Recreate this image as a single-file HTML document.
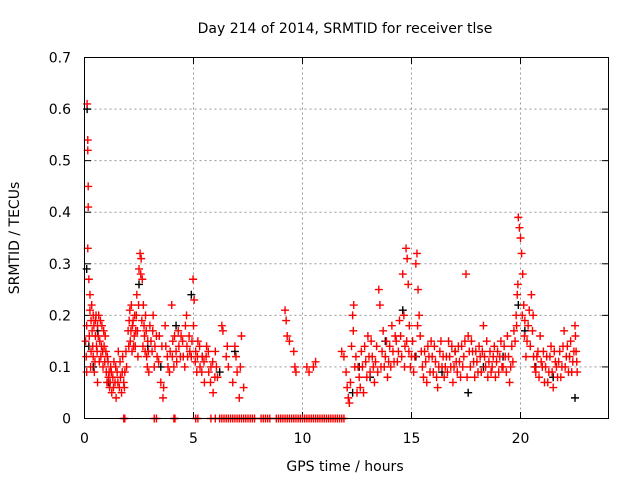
<!DOCTYPE html>
<html><head><meta charset="utf-8"><style>
body{margin:0;background:#fff}
svg{display:block;font-family:"DejaVu Sans","Liberation Sans",sans-serif}
</style></head><body>
<svg id="chart" width="640" height="480" viewBox="0 0 640 480">
<rect width="640" height="480" fill="#fff"/>
<text x="345" y="33" font-size="14" text-anchor="middle">Day 214 of 2014, SRMTID for receiver tlse</text>
<text x="345" y="471" font-size="14" text-anchor="middle">GPS time / hours</text>
<text x="19" y="238" font-size="14" text-anchor="middle" transform="rotate(-90 19 238)">SRMTID / TECUs</text>
<g id="grid"></g>
<g id="axes"></g>
<g id="black-series"></g>
<g id="red-series"></g>
<rect x="84.5" y="57.5" width="524" height="361" fill="none" stroke="#000" stroke-width="1"/>
</svg>
<script>
const xTicks=[0,5,10,15,20];
const yTicks=[0,0.1,0.2,0.3,0.4,0.5,0.6,0.7];
const yTickLabels=["0","0.1","0.2","0.3","0.4","0.5","0.6","0.7"];
const redT=[0.05,0.1,0.1,0.12,0.15,0.15,0.17,0.17,0.15,0.2,0.25,0.25,0.3,0.3,0.35,0.4,0.4,0.45,0.5,0.5,0.55,0.6,0.6,0.65,0.7,0.75,0.8,0.85,0.9,0.95,1.0,1.05,1.1,1.15,1.2,1.25,1.3,1.35,1.4,1.45,1.5,1.55,1.6,1.65,1.7,1.75,1.8,1.85,1.9,2.0,2.05,2.1,2.15,2.2,2.25,2.3,2.35,2.4,2.45,2.5,2.55,2.6,2.65,2.7,2.75,2.8,2.85,2.9,2.95,3.0,3.1,3.15,3.2,3.3,3.4,3.5,3.6,3.55,3.7,3.8,3.9,4.0,4.05,4.1,4.2,4.3,4.4,4.5,4.6,4.7,4.8,4.9,5.0,5.1,5.15,5.2,5.3,5.4,5.5,5.6,5.7,5.8,5.9,6.0,6.1,6.3,6.35,6.5,6.6,6.8,6.9,7.0,7.1,7.2,7.3,9.2,9.25,9.3,9.4,9.6,9.65,9.7,10.2,10.3,10.5,10.6,11.8,11.9,12.0,12.05,12.1,12.15,12.2,12.25,12.3,12.35,12.4,12.5,12.6,12.7,12.8,12.9,13.0,13.1,13.2,13.3,13.4,13.5,13.55,13.6,13.7,13.8,13.9,14.0,14.1,14.2,14.3,14.4,14.5,14.6,14.65,14.7,14.75,14.8,14.85,14.9,15.0,15.1,15.2,15.25,15.3,15.35,15.4,15.5,15.6,15.7,15.8,15.9,16.0,16.1,16.2,16.3,16.4,16.5,16.6,16.7,16.8,16.9,17.0,17.1,17.2,17.3,17.4,17.5,17.55,17.6,17.7,17.8,17.9,18.0,18.1,18.2,18.3,18.35,18.4,18.5,18.6,18.7,18.8,18.9,19.0,19.1,19.2,19.3,19.4,19.5,19.6,19.7,19.8,19.85,19.9,19.95,20.0,20.05,20.1,20.15,20.2,20.3,20.4,20.5,20.55,20.6,20.7,20.8,20.9,21.0,21.1,21.2,21.3,21.4,21.5,21.6,21.7,21.8,21.9,22.0,22.1,22.2,22.3,22.4,22.5,22.55,22.6,
0.08,0.22,0.28,0.33,0.38,0.43,0.48,0.53,0.58,0.63,0.68,0.73,0.78,0.83,0.88,0.93,0.98,1.03,1.08,1.13,1.18,1.23,1.33,1.43,1.53,1.63,1.73,1.83,1.93,2.03,2.08,2.13,2.18,2.23,2.28,2.33,2.38,2.43,2.48,2.58,2.63,2.68,2.73,2.78,2.83,2.88,2.93,3.05,3.13,3.23,3.33,3.43,3.63,3.73,3.83,3.93,4.03,4.13,4.23,4.33,4.43,4.53,4.63,4.68,4.73,4.83,4.93,4.98,5.03,5.08,5.18,5.28,5.38,5.48,5.58,5.68,5.78,5.88,5.98,6.05,6.55,6.95,7.15,
12.33,12.45,12.55,12.65,12.75,12.85,12.95,13.05,13.15,13.25,13.35,13.45,13.65,13.75,13.85,13.95,14.05,14.15,14.25,14.35,14.45,14.55,14.68,14.78,14.88,14.95,15.05,15.15,15.28,15.45,15.55,15.65,15.75,15.85,15.95,16.05,16.15,16.25,16.35,16.45,16.55,16.65,16.75,16.85,16.95,17.05,17.15,17.25,17.35,17.45,17.65,17.75,17.85,17.95,18.05,18.15,18.25,18.45,18.55,18.65,18.75,18.85,18.95,19.05,19.15,19.25,19.35,19.45,19.55,19.65,19.75,19.82,19.88,20.08,20.18,20.25,20.35,20.45,20.58,20.65,20.75,20.85,20.95,21.05,21.15,21.25,21.35,21.45,21.55,21.65,21.75,21.85,21.95,22.05,22.15,22.25,22.35,22.45,22.52,22.58];
const redV=[0.15,0.09,0.18,0.61,0.54,0.52,0.45,0.41,0.33,0.27,0.24,0.21,0.19,0.13,0.17,0.2,0.12,0.09,0.16,0.19,0.14,0.18,0.07,0.2,0.15,0.12,0.18,0.1,0.14,0.16,0.09,0.12,0.08,0.06,0.1,0.05,0.08,0.11,0.07,0.04,0.09,0.13,0.06,0.08,0.05,0.12,0.07,0.09,0.13,0.17,0.19,0.15,0.22,0.18,0.14,0.2,0.17,0.24,0.12,0.29,0.32,0.31,0.27,0.22,0.16,0.2,0.12,0.15,0.09,0.18,0.13,0.2,0.1,0.16,0.11,0.07,0.04,0.14,0.18,0.12,0.09,0.22,0.15,0.1,0.13,0.17,0.12,0.15,0.1,0.14,0.16,0.12,0.18,0.13,0.09,0.15,0.1,0.12,0.07,0.14,0.09,0.1,0.05,0.13,0.08,0.18,0.17,0.12,0.1,0.07,0.14,0.09,0.04,0.16,0.06,0.21,0.19,0.16,0.15,0.13,0.1,0.09,0.1,0.09,0.1,0.11,0.13,0.12,0.09,0.06,0.04,0.03,0.07,0.14,0.2,0.22,0.1,0.05,0.08,0.13,0.05,0.11,0.16,0.09,0.12,0.07,0.14,0.25,0.22,0.1,0.17,0.12,0.08,0.14,0.18,0.11,0.15,0.13,0.16,0.28,0.2,0.14,0.33,0.31,0.26,0.18,0.12,0.09,0.3,0.32,0.25,0.2,0.16,0.1,0.13,0.07,0.12,0.15,0.09,0.11,0.06,0.13,0.1,0.08,0.12,0.15,0.1,0.07,0.13,0.09,0.11,0.14,0.12,0.28,0.08,0.16,0.1,0.13,0.08,0.11,0.14,0.09,0.18,0.12,0.1,0.08,0.13,0.1,0.14,0.11,0.09,0.15,0.1,0.12,0.16,0.07,0.14,0.17,0.2,0.24,0.39,0.37,0.35,0.32,0.28,0.22,0.19,0.15,0.21,0.24,0.17,0.12,0.09,0.13,0.16,0.1,0.07,0.12,0.09,0.14,0.06,0.11,0.08,0.13,0.1,0.17,0.12,0.09,0.15,0.11,0.18,0.13,0.09,
0.12,0.16,0.1,0.22,0.14,0.18,0.11,0.2,0.13,0.16,0.11,0.19,0.14,0.13,0.17,0.11,0.13,0.07,0.11,0.09,0.07,0.09,0.06,0.1,0.07,0.11,0.09,0.06,0.1,0.14,0.21,0.17,0.13,0.19,0.16,0.14,0.2,0.17,0.22,0.28,0.19,0.14,0.18,0.13,0.17,0.1,0.13,0.15,0.17,0.14,0.12,0.16,0.06,0.14,0.1,0.13,0.12,0.16,0.11,0.14,0.16,0.12,0.18,0.2,0.12,0.13,0.15,0.27,0.23,0.11,0.12,0.14,0.09,0.11,0.12,0.13,0.07,0.11,0.08,0.1,0.14,0.12,0.1,
0.17,0.12,0.1,0.06,0.1,0.14,0.08,0.12,0.15,0.1,0.11,0.09,0.13,0.1,0.15,0.11,0.1,0.13,0.16,0.11,0.19,0.12,0.1,0.15,0.13,0.1,0.15,0.12,0.18,0.13,0.08,0.11,0.14,0.09,0.12,0.14,0.08,0.1,0.15,0.12,0.1,0.09,0.12,0.14,0.1,0.11,0.14,0.08,0.1,0.15,0.13,0.15,0.11,0.13,0.09,0.12,0.13,0.15,0.11,0.09,0.12,0.08,0.13,0.12,0.1,0.14,0.09,0.12,0.1,0.11,0.15,0.18,0.26,0.2,0.16,0.12,0.18,0.14,0.2,0.1,0.12,0.08,0.11,0.13,0.1,0.07,0.12,0.09,0.13,0.1,0.11,0.08,0.14,0.1,0.14,0.12,0.09,0.13,0.16,0.11];
const zeroT=[1.8,1.85,3.2,3.3,4.1,4.15,5.1,5.2,5.8,6.0,6.2,6.3,6.4,6.5,6.6,6.7,6.8,6.9,7.0,7.1,7.2,7.3,7.4,7.5,7.6,7.7,7.8,8.1,8.2,8.3,8.4,8.5,8.8,8.9,9.0,9.1,9.2,9.3,9.4,9.5,9.6,9.7,9.8,9.9,10.0,10.1,10.2,10.3,10.4,10.5,10.6,10.7,10.8,10.9,11.0,11.1,11.2,11.3,11.4,11.5,11.6,11.7,11.8,11.9];
const blackT=[0.1,0.12,0.2,0.4,0.6,1.1,2.5,2.9,3.5,4.2,4.9,5.4,6.2,6.9,12.3,12.6,13.1,13.8,14.6,15.2,16.4,17.0,17.6,18.3,19.2,19.9,20.2,20.7,21.5,22.5];
const blackV=[0.29,0.6,0.14,0.1,0.17,0.07,0.26,0.14,0.1,0.18,0.24,0.12,0.09,0.13,0.05,0.1,0.08,0.15,0.21,0.12,0.09,0.13,0.05,0.1,0.12,0.22,0.17,0.1,0.08,0.04];
const X0=84.5,XS=21.8,Y0=418.5,YS=515.7;
function xs(t){return X0+t*XS;}
function ys(v){return Y0-v*YS;}
const NS="http://www.w3.org/2000/svg";
const grid=document.getElementById('grid'),axes=document.getElementById('axes');
function mk(tag,attrs,parent){const e=document.createElementNS(NS,tag);for(const k in attrs)e.setAttribute(k,attrs[k]);parent.appendChild(e);return e;}
xTicks.forEach((t,i)=>{const x=xs(t);
 if(t>0){const g=mk('line',{x1:x,y1:57.5,x2:x,y2:418.5,stroke:'#999','stroke-dasharray':'2,3'},grid);
 
 }
 mk('line',{x1:x,y1:418.5,x2:x,y2:412,stroke:'#000'},axes);
 mk('line',{x1:x,y1:57.5,x2:x,y2:64,stroke:'#000'},axes);
 const l=mk('text',{x:x,y:443,'font-size':14,'text-anchor':'middle'},axes);l.textContent=t;
 
 });
yTicks.forEach((v,i)=>{const y=ys(v);
 if(v>0&&v<0.7){const g=mk('line',{x1:84.5,y1:y,x2:608.5,y2:y,stroke:'#999','stroke-dasharray':'2,3'},grid);
 
 }
 mk('line',{x1:84.5,y1:y,x2:91,y2:y,stroke:'#000'},axes);
 mk('line',{x1:608.5,y1:y,x2:602,y2:y,stroke:'#000'},axes);
 const l=mk('text',{x:71,y:y+5,'font-size':14,'text-anchor':'end'},axes);l.textContent=yTickLabels[i];
 
 });
function plus(t,v,col,parent){const x=xs(t),y=ys(v);
 const p=mk('path',{d:`M${x-4} ${y}H${x+4}M${x} ${y-4}V${y+4}`,stroke:col,'stroke-width':1.4,fill:'none'},parent);
 return p;}
const bg=document.getElementById('black-series'),rg=document.getElementById('red-series');
blackT.forEach((t,i)=>{const p=plus(t,blackV[i],'#000',bg);
 
 });
redT.forEach((t,i)=>{const p=plus(t,redV[i],'#f00',rg);
 
 });
zeroT.forEach(t=>{const p=plus(t,0,'#f00',rg);
 
 });
</script>
</body></html>
